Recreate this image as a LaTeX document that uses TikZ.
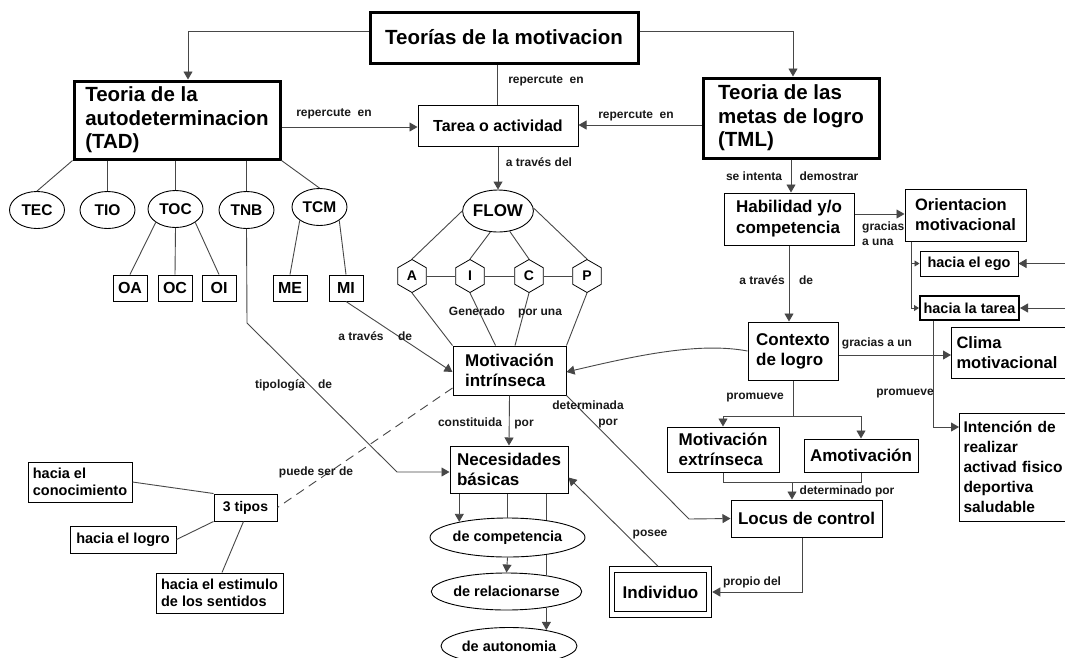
\documentclass[tikz,border=0pt]{standalone}
\usepackage{fontspec}
\setmainfont{Liberation Sans}
\usetikzlibrary{shapes.geometric,arrows.meta,backgrounds}
\newcommand\fsz[2]{\fontsize{#1}{#2}\selectfont\bfseries}
\begin{document}
\begin{tikzpicture}[x=1pt,y=-1pt,
  bx/.style={draw, line width=1pt, rectangle, inner sep=0pt, align=center, fill=white},
  thk/.style={draw, line width=3pt, rectangle, inner sep=0pt, align=left},
  el/.style={draw, ellipse, line width=0.9pt, inner sep=0pt, fill=white},
  hex/.style={draw, regular polygon, regular polygon sides=6, shape border rotate=30, minimum size=33pt, inner sep=0pt, line width=0.8pt, font=\fsz{14}{16}},
  conn/.style={draw=black!72, line width=0.9pt},
  arr/.style={conn, -{Triangle[length=8pt,width=9pt]}},
  sarr/.style={conn, -{Triangle[length=5pt,width=6pt]}},
  lbl/.style={font=\fsz{12}{14}, inner sep=0pt, text=black!90, text height=9pt, text depth=2.5pt},
  lbll/.style={lbl, anchor=west}
]
\begin{pgfonlayer}{background}
\fill[white] (0,0) rectangle (1065,657);
\end{pgfonlayer}
\useasboundingbox (0,0) rectangle (1065,657);

% main boxes
\node[thk, minimum width=268pt, minimum height=51pt, align=center, font=\fsz{20.5}{23.5}] (title) at (504,37.5) {Teorías de la motivacion};
\node[thk, minimum width=206pt, minimum height=78pt, font=\fsz{20.5}{23.5}] (tad) at (177,120) {Teoria de la\\autodeterminacion\\(TAD)};
\node[bx, minimum width=160pt, minimum height=41pt, font=\fsz{16}{19}] (tarea) at (498,125.5) {Tarea o actividad};
\node[thk, minimum width=176pt, minimum height=80pt, font=\fsz{20.5}{23.5}] (tml) at (791,118) {Teoria de las\\metas de logro\\(TML)};

% FLOW
\node[el, minimum width=70pt, minimum height=42pt, font=\fsz{17}{20}] (flow) at (498,211) {FLOW};
\node[hex] (hA) at (412,276) {A};
\node[hex] (hI) at (470,276) {I};
\node[hex] (hC) at (529,276) {C};
\node[hex] (hP) at (587,276) {P};

% TAD subtheories
\node[el, minimum width=55pt, minimum height=37pt, font=\fsz{15.5}{18}] (tec) at (37,210) {TEC};
\node[el, minimum width=55pt, minimum height=37pt, font=\fsz{15.5}{18}] (tio) at (107.5,210) {TIO};
\node[el, minimum width=55pt, minimum height=37pt, font=\fsz{15.5}{18}] (toc) at (175.5,209) {TOC};
\node[el, minimum width=55pt, minimum height=37pt, font=\fsz{15.5}{18}] (tnb) at (246.5,210) {TNB};
\node[el, minimum width=55pt, minimum height=37pt, font=\fsz{15.5}{18}] (tcm) at (319.5,207) {TCM};

\node[bx, minimum width=34pt, minimum height=26pt, font=\fsz{16}{18}] (oa) at (130,288) {OA};
\node[bx, minimum width=34pt, minimum height=26pt, font=\fsz{16}{18}] (oc) at (175,288) {OC};
\node[bx, minimum width=34pt, minimum height=26pt, font=\fsz{16}{18}] (oi) at (219,288) {OI};
\node[bx, minimum width=34pt, minimum height=26pt, font=\fsz{16}{18}] (me) at (290,288) {ME};
\node[bx, minimum width=34pt, minimum height=26pt, font=\fsz{16}{18}] (mi) at (346,288) {MI};

% centre column
\node[bx, minimum width=113pt, minimum height=49pt, align=left, font=\fsz{17}{20}] (motI) at (509.5,370.5) {Motivación\\intrínseca};
\node[bx, minimum width=118pt, minimum height=47pt, align=left, font=\fsz{17}{20}] (nec) at (509,469.5) {Necesidades\\básicas};
\node[el, minimum width=139pt, minimum height=39pt, font=\fsz{14.5}{17}] (comp) at (507.5,537.5) {de competencia};
\node[el, minimum width=139pt, minimum height=37pt, font=\fsz{14.5}{17}] (rel) at (506.5,591.5) {de relacionarse};
\node[el, minimum width=136pt, minimum height=37pt, font=\fsz{14.5}{17}] (auto) at (509,646) {de autonomia};
\node[draw, double, double distance=4.5pt, line width=1pt, minimum width=97pt, minimum height=45pt, outer sep=3.25pt, inner sep=0pt, font=\fsz{17}{20}] (indiv) at (660.5,592) {Individuo};

% 3 tipos
\node[bx, minimum width=63pt, minimum height=27pt, font=\fsz{14}{16}] (tipos) at (245.5,507.5) {3 tipos};
\node[bx, minimum width=104pt, minimum height=40pt, align=left, font=\fsz{14.5}{16.5}] (conoc) at (80,482) {hacia el\\conocimiento};
\node[bx, minimum width=106pt, minimum height=27pt, font=\fsz{14.5}{16.5}] (logro) at (123,539.5) {hacia el logro};
\node[bx, minimum width=127pt, minimum height=40pt, align=left, font=\fsz{14.5}{17}] (estim) at (219.5,593) {hacia el estimulo\\de los sentidos};

% right side
\node[bx, minimum width=130pt, minimum height=52pt, align=left, font=\fsz{17}{21}] (hab) at (789,219) {Habilidad y/o\\competencia};
\node[bx, minimum width=121pt, minimum height=52pt, align=left, font=\fsz{16.5}{20}] (ori) at (965.5,215) {Orientacion\\motivacional};
\node[bx, minimum width=98pt, minimum height=25pt, font=\fsz{14.5}{17}] (ego) at (969,263.5) {hacia el ego};
\node[bx, line width=2pt, minimum width=99pt, minimum height=24pt, font=\fsz{14.5}{17}] (tarea2) at (969.5,308) {hacia la tarea};
\node[bx, minimum width=90pt, minimum height=58pt, align=left, font=\fsz{17}{20}] (ctx) at (793,351) {Contexto\\de logro};
\node[bx, anchor=west, minimum height=51pt, text width=120pt, inner xsep=5pt, align=left, font=\fsz{16.5}{20}] (clima) at (951,352.5) {Clima\\motivacional};
\node[bx, anchor=west, minimum height=108pt, text width=120pt, inner xsep=4pt, align=left, font=\fsz{15.5}{20}] (inten) at (959,467) {Intención de\\realizar\\activad fisico\\deportiva\\saludable};
\node[bx, minimum width=112pt, minimum height=45pt, align=left, font=\fsz{17}{20}] (motE) at (723,449.5) {Motivación\\extrínseca};
\node[bx, minimum width=114pt, minimum height=33pt, font=\fsz{17}{20}] (amot) at (861,455.5) {Amotivación};
\node[bx, minimum width=151pt, minimum height=37pt, font=\fsz{17}{20}] (locus) at (806.5,518.5) {Locus de control};

% helper coordinates
\coordinate (tnbA) at (247,323);
\coordinate (tnbB) at (397,472);
\coordinate (detC) at (689,519);
\coordinate (jn) at (792,482);
\coordinate (egoR) at (1075,263.5);
\coordinate (tarR) at (1075,308);

% connectors
\draw[arr] ([yshift=6.5pt]title.west) -| ([xshift=11pt]tad.north);
\draw[arr] ([yshift=6.5pt]title.east) -| ([xshift=2pt]tml.north);
\draw[conn] ([xshift=-7pt]title.south) -- ([xshift=-1pt]tarea.north);
\draw[arr] (tad.east |- 0,127) -- (tarea.west |- 0,127);
\draw[arr] (tml.west |- 0,125) -- (tarea.east |- 0,125);
\draw[arr] (tarea.south) -- (flow.north);

\draw[conn] (flow.west) -- (hA.90);
\draw[conn] (flow.-110) -- (hI.90);
\draw[conn] (flow.-60) -- (hC.90);
\draw[conn] (flow.5) -- (hP.90);
\draw[conn] (hA.0) -- (hI.180);
\draw[conn] (hI.0) -- (hC.180);
\draw[conn] (hC.0) -- (hP.180);
\draw[conn] (hA.270) -- (motI.north west);
\draw[conn] (hI.270) -- ([xshift=-14pt]motI.north);
\draw[conn] (hC.270) -- ([xshift=5.5pt]motI.north);
\draw[conn] (hP.270) -- (motI.north east);

\draw[conn] (tad.south west) -- (tec.north);
\draw[conn] (tio.north |- tad.south) -- (tio.north);
\draw[conn] (toc.north |- tad.south) -- (toc.north);
\draw[conn] (tnb.north |- tad.south) -- (tnb.north);
\draw[conn] (tad.south east) -- (tcm.north);
\draw[conn] (toc.south west) -- (oa.north);
\draw[conn] (toc.south) -- (oc.north);
\draw[conn] (toc.south east) -- (oi.north);
\draw[conn] (tcm.south west) -- (me.north);
\draw[conn] (tcm.south east) -- (mi.north);

\draw[arr] (tnb.south) -- (tnbA) -- (tnbB) -- (nec.west |- tnbB);
\draw[arr] (mi.south) -- (motI.west |- 0,372);
\draw[conn, dash pattern=on 9pt off 6pt] ([yshift=-17.5pt]motI.west) -- (tipos.east);
\draw[conn] (tipos.north west) -- (conoc.east);
\draw[conn] (tipos.south west) -- (logro.east);
\draw[conn] ([xshift=-2pt]tipos.south) -- ([xshift=2.5pt]estim.north);

\draw[arr] (motI.south) -- (nec.north);
\draw[arr] (motI.south east) -- (detC) -- (locus.west);
\draw[arr] (nec.south -| comp.162) -- (comp.162);
\draw[conn] (nec.south -| comp.north) -- (comp.north);
\draw[arr] (comp.south) -- (rel.north);
\begin{pgfonlayer}{background}
\draw[conn] (nec.south -| rel.22) -- (rel.22);
\end{pgfonlayer}
\draw[arr] (rel.-22) -- (rel.-22 |- auto.24);
\draw[arr] ([xshift=-2.5pt]indiv.north) -- ([yshift=-8pt]nec.east);
\draw[arr] ([xshift=-4.5pt]locus.south) |- (indiv.east);

\draw[arr] (tml.south) -- (tml.south |- hab.north);
\draw[arr] (hab.east |- 0,214) -- (ori.west |- 0,214);
\draw[sarr] ([xshift=7pt]ori.south west) |- (ego.west);
\draw[sarr] ([xshift=7pt]ori.south west) |- (tarea2.west);
\draw[arr] (egoR) -- (ego.east);
\draw[arr] (tarR) -- (tarea2.east);
\draw[arr] (hab.south) -- (hab.south |- ctx.north);
\draw[arr] (ctx.east |- 0,355) -- (clima.west |- 0,355);
\draw[arr] ([xshift=-36.5pt]tarea2.south) |- ([yshift=40pt]inten.west);
\draw[arr] (ctx.west) .. controls +(-48,-9) and +(72,-17) .. (motI.east |- 0,372);
\draw[conn] (ctx.south) -- (ctx.south |- 0,416);
\draw[arr] (ctx.south |- 0,416) -| (motE.north);
\draw[arr] (ctx.south |- 0,416) -| (amot.north);
\draw[conn] (motE.south) -- (motE.south |- jn) -| (amot.south);
\draw[arr] (jn) -- (jn |- locus.north);

% labels
\node[lbl] (l1) at (546,80) {repercute~~en};
\node[lbl] (l2) at (334,113) {repercute~~en};
\node[lbl] (l3) at (636,115) {repercute~~en};
\node[lbl] (l4) at (539,163) {a través del};
\node[lbl] (l5) at (754,177) {se intenta};
\node[lbl] (l6) at (829,177) {demostrar};
\node[lbl] (l7) at (477,312) {Generado};
\node[lbl] (l8) at (540,312) {por una};
\node[lbl] (l9) at (361,337) {a través};
\node[lbl] (l10) at (405,337) {de};
\node[lbl] (l11) at (280,385) {tipología};
\node[lbl] (l12) at (325,385) {de};
\node[lbl] (l13) at (316,472) {puede ser de};
\node[lbl] (l14) at (470,423) {constituida};
\node[lbl] (l15) at (524,423) {por};
\node[lbl] (l16) at (588,406) {determinada};
\node[lbl] (l17) at (608,422) {por};
\node[lbl] (l18) at (650,533) {posee};
\node[lbl] (l19) at (752,582) {propio del};
\node[lbl] (l20) at (847,491) {determinado por};
\node[lbl] (l21) at (755,396) {promueve};
\node[lbl] (l22) at (905,392) {promueve};
\node[lbll] (l23) at (862,227) {gracias};
\node[lbll] (l24) at (862,242) {a una};
\node[lbl] (l25) at (877,343) {gracias a un};
\node[lbl] (l26) at (762,281) {a través};
\node[lbl] (l27) at (806,281) {de};
\end{tikzpicture}
\end{document}
